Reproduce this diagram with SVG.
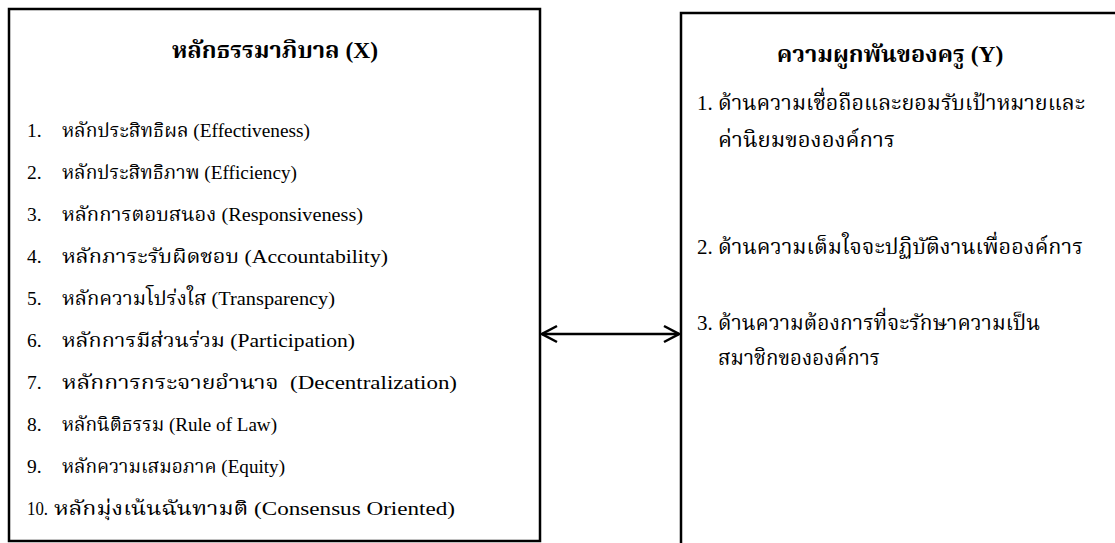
<svg xmlns="http://www.w3.org/2000/svg" width="1115" height="543" viewBox="0 0 1115 543">
<defs>
<style>
.box{fill:#fff;stroke:#000;stroke-width:2.5}
.t{font-family:"Liberation Serif","Noto Serif Thai","Noto Sans Thai",serif;font-size:19.5px;fill:#000;white-space:pre}
.r{font-family:"Liberation Serif","Noto Serif Thai","Noto Sans Thai",serif;font-size:21px;fill:#000}
.h{font-family:"Liberation Serif","Noto Serif Thai","Noto Sans Thai",serif;font-size:23.5px;font-weight:bold;fill:#000;text-anchor:middle}
.conn{stroke:#000;stroke-width:2.5;fill:none}
</style>
<marker id="ah" viewBox="0 0 20 20" refX="19" refY="10" markerWidth="20" markerHeight="20" markerUnits="userSpaceOnUse" orient="auto-start-reverse">
<path d="M4,2 L19,10 L4,18" fill="none" stroke="#000" stroke-width="2.5"/>
</marker>
</defs>
<rect width="1115" height="543" fill="#fff"/>
<g id="nodeX">
<rect class="box" x="9" y="9" width="531" height="532"/>
<text class="h" x="275" y="58">หลักธรรมาภิบาล (X)</text>
<text class="t" x="27" y="137">1.</text><text class="t" x="62" y="137" textLength="248" lengthAdjust="spacingAndGlyphs">หลักประสิทธิผล (Effectiveness)</text>
<text class="t" x="27" y="179">2.</text><text class="t" x="62" y="179" textLength="235" lengthAdjust="spacingAndGlyphs">หลักประสิทธิภาพ (Efficiency)</text>
<text class="t" x="27" y="221">3.</text><text class="t" x="62" y="221" textLength="301" lengthAdjust="spacingAndGlyphs">หลักการตอบสนอง (Responsiveness)</text>
<text class="t" x="27" y="263">4.</text><text class="t" x="62" y="263" textLength="326" lengthAdjust="spacingAndGlyphs">หลักภาระรับผิดชอบ (Accountability)</text>
<text class="t" x="27" y="305">5.</text><text class="t" x="62" y="305" textLength="273" lengthAdjust="spacingAndGlyphs">หลักความโปร่งใส (Transparency)</text>
<text class="t" x="27" y="347">6.</text><text class="t" x="62" y="347" textLength="293" lengthAdjust="spacingAndGlyphs">หลักการมีส่วนร่วม (Participation)</text>
<text class="t" x="27" y="389">7.</text><text class="t" x="62" y="389" textLength="395" lengthAdjust="spacingAndGlyphs">หลักการกระจายอำนาจ  (Decentralization)</text>
<text class="t" x="27" y="431">8.</text><text class="t" x="62" y="431" textLength="215" lengthAdjust="spacingAndGlyphs">หลักนิติธรรม (Rule of Law)</text>
<text class="t" x="27" y="473">9.</text><text class="t" x="62" y="473" textLength="223" lengthAdjust="spacingAndGlyphs">หลักความเสมอภาค (Equity)</text>
<text class="t" x="27" y="515" textLength="21" lengthAdjust="spacingAndGlyphs">10.</text><text class="t" x="54" y="515" textLength="401" lengthAdjust="spacingAndGlyphs">หลักมุ่งเน้นฉันทามติ (Consensus Oriented)</text>
</g>
<g id="nodeY">
<rect class="box" x="681" y="13" width="460" height="560"/>
<text class="h" x="890" y="62">ความผูกพันของครู (Y)</text>
<text class="r" x="697" y="110">1.</text><text class="r" x="718" y="110" textLength="367" lengthAdjust="spacingAndGlyphs">ด้านความเชื่อถือและยอมรับเป้าหมายและ</text>
<text class="r" x="718" y="147" textLength="177" lengthAdjust="spacingAndGlyphs">ค่านิยมขององค์การ</text>
<text class="r" x="697" y="254">2.</text><text class="r" x="718" y="254" textLength="365" lengthAdjust="spacingAndGlyphs">ด้านความเต็มใจจะปฏิบัติงานเพื่อองค์การ</text>
<text class="r" x="697" y="330">3.</text><text class="r" x="718" y="330" textLength="322" lengthAdjust="spacingAndGlyphs">ด้านความต้องการที่จะรักษาความเป็น</text>
<text class="r" x="718" y="365" textLength="162" lengthAdjust="spacingAndGlyphs">สมาชิกขององค์การ</text>
</g>
<g id="connectors">
<line class="conn" x1="542" y1="334" x2="679" y2="334" marker-start="url(#ah)" marker-end="url(#ah)"/>
</g>
</svg>
